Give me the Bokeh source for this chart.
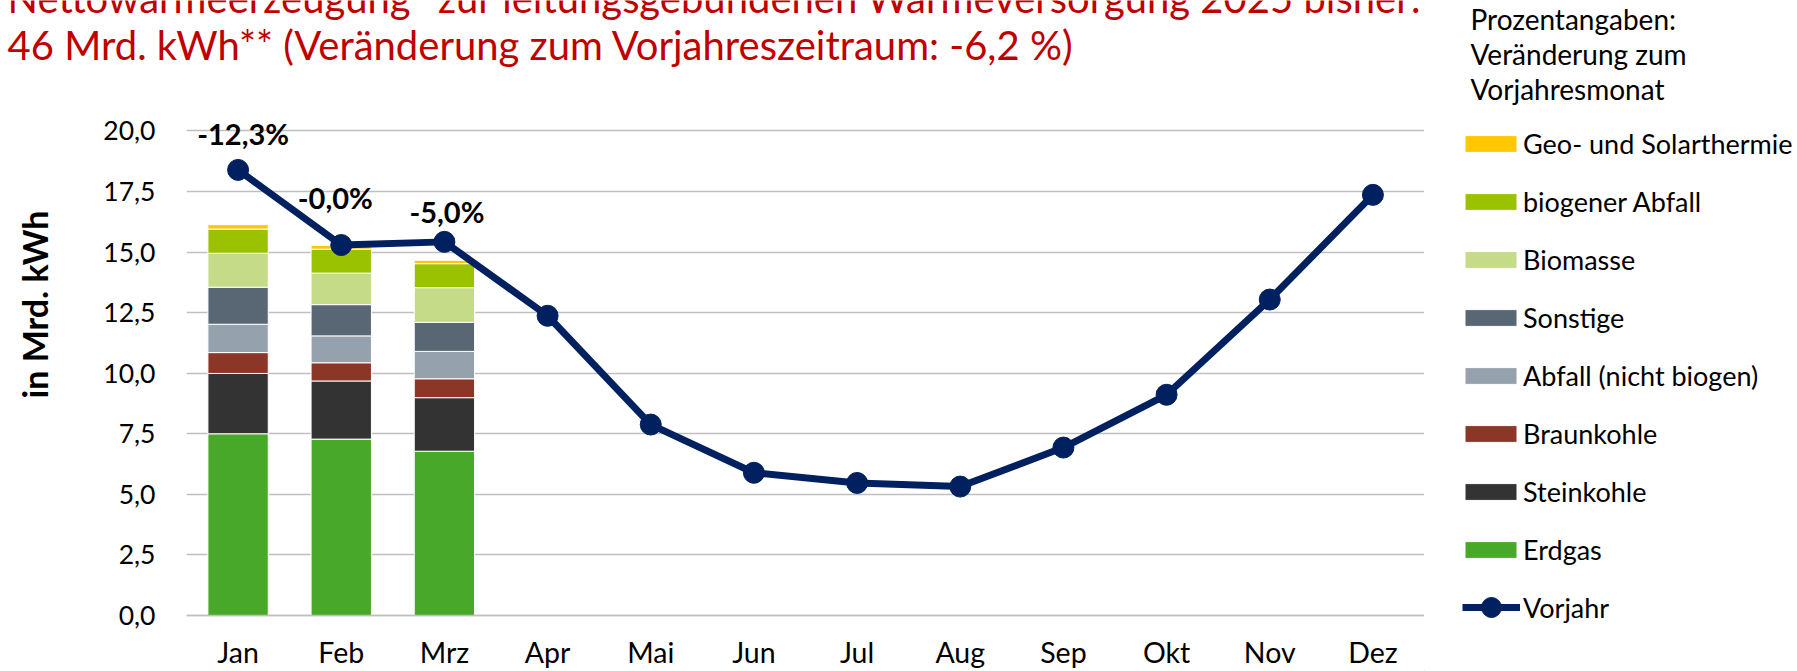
import math
from bokeh.plotting import figure
from bokeh.layouts import column, row
from bokeh.models import (ColumnDataSource, FactorRange, Range1d, FixedTicker,
                          Legend, LegendItem)
from bokeh.core.properties import value
from bokeh.embed import file_html
from bokeh.resources import INLINE

# ---------------- data ----------------
months = ["Jan", "Feb", "Mrz", "Apr", "Mai", "Jun", "Jul", "Aug", "Sep", "Okt", "Nov", "Dez"]
bar_months = ["Jan", "Feb", "Mrz"]

erdgas = [7.50, 7.28, 6.78]
steinkohle = [2.49, 2.40, 2.21]
braunkohle = [0.86, 0.75, 0.78]
abfall = [1.17, 1.11, 1.13]
sonstige = [1.53, 1.29, 1.20]
biomasse = [1.40, 1.30, 1.43]
biogener_abfall = [1.00, 0.99, 0.99]
geo_solar = [0.18, 0.16, 0.14]

vorjahr = [18.39, 15.29, 15.42, 12.37, 7.88, 5.89, 5.47, 5.32, 6.93, 9.11, 13.04, 17.36]
pct_labels = ["-12,3%", "-0,0%", "-5,0%"]

series_names = ["Erdgas", "Steinkohle", "Braunkohle", "Abfall (nicht biogen)",
                "Sonstige", "Biomasse", "biogener Abfall", "Geo- und Solarthermie"]
series_keys = ["erdgas", "steinkohle", "braunkohle", "abfall", "sonstige",
               "biomasse", "biogen", "geo"]
series_colors = ["#48A829", "#333333", "#8B3626", "#95A1AC", "#596774",
                 "#C5DB87", "#9BC201", "#FFC800"]
line_name = "Vorjahr"

y_ticks = [0, 2.5, 5, 7.5, 10, 12.5, 15, 17.5, 20]
y_tick_labels = ["0,0", "2,5", "5,0", "7,5", "10,0", "12,5", "15,0", "17,5", "20,0"]

title_lines = ["Nettowärmeerzeugung* zur leitungsgebundenen Wärmeversorgung 2025 bisher:",
               "46 Mrd. kWh** (Veränderung zum Vorjahreszeitraum: -6,2 %)"]
note_lines = ["Prozentangaben:", "Veränderung zum", "Vorjahresmonat"]
y_title = "in Mrd. kWh"

FONT = "Lato"
LINE_COLOR = "#002060"
TITLE_COLOR = "#C00000"
GRID_COLOR = "#BFBFBF"

# page geometry (pixels)
W, H = 1797, 671
HEAD_H = 108          # header strip height
LEFT_W = 68           # y-title strip width
FRAME_L, FRAME_R, ZERO_Y = 186, 1424, 615   # frame left/right, pixel row of value 0
PX_PER_UNIT = 24.23
main_h = H - HEAD_H


def blank(width, height):
    f = figure(width=width, height=height, x_range=Range1d(0, width),
               y_range=Range1d(0, height), min_border=0,
               output_backend="svg", toolbar_location=None)
    f.axis.visible = False
    f.grid.visible = False
    f.outline_line_color = None
    return f


# ---------------- header (title + note) ----------------
header = blank(W, HEAD_H)
header.text(x=[7, 7], y=[HEAD_H + 2.5, HEAD_H - 44.5], text=title_lines,
            text_font=value(FONT), text_font_size="40px", text_color=TITLE_COLOR,
            text_align="left", text_baseline="middle")
header.text(x=[1470] * 3, y=[HEAD_H - 18, HEAD_H - 53, HEAD_H - 88], text=note_lines,
            text_font=value(FONT), text_font_size="28px", text_color="black",
            text_align="left", text_baseline="middle")

# ---------------- left strip (y axis title) ----------------
left = blank(LEFT_W, main_h)
left.text(x=[34], y=[H - 304], text=[y_title], angle=math.pi / 2,
          text_font=value(FONT), text_font_size="34px", text_font_style="bold",
          text_color="black", text_align="center", text_baseline="middle")

# ---------------- main chart ----------------
# frame spans the full strip height; the x axis is pinned at value 0
y_top = (ZERO_Y - HEAD_H) / PX_PER_UNIT
y_bottom = -(H - ZERO_Y) / PX_PER_UNIT
p = figure(width=FRAME_R - LEFT_W, height=main_h, x_range=FactorRange(*months),
           y_range=Range1d(y_bottom, y_top), output_backend="svg", toolbar_location=None,
           min_border_left=FRAME_L - LEFT_W, min_border_right=0,
           min_border_top=0, min_border_bottom=0)
p.outline_line_color = None

bar_src = ColumnDataSource(dict(months=bar_months, erdgas=erdgas, steinkohle=steinkohle,
                                braunkohle=braunkohle, abfall=abfall, sonstige=sonstige,
                                biomasse=biomasse, biogen=biogener_abfall, geo=geo_solar))
p.vbar_stack(series_keys, x="months", width=0.585, source=bar_src,
             fill_color=series_colors, line_color="white", line_width=1)

line_src = ColumnDataSource(dict(months=months, vorjahr=vorjahr))
p.line("months", "vorjahr", source=line_src, line_width=7, line_color=LINE_COLOR,
       line_join="round")
p.scatter("months", "vorjahr", source=line_src, size=21, fill_color=LINE_COLOR,
          line_color=LINE_COLOR)

lab_src = ColumnDataSource(dict(months=bar_months, y=vorjahr[:3], text=pct_labels,
                                dx=[5, -6, 2.5], dy=[-36.5, -48, -30]))
p.text("months", "y", text="text", source=lab_src, x_offset="dx", y_offset="dy",
       text_align="center", text_baseline="middle", text_font=value(FONT),
       text_font_style="bold", text_font_size="29px", text_color="black")

p.xgrid.grid_line_color = None
p.ygrid.grid_line_color = GRID_COLOR
p.ygrid.grid_line_width = 1.5
p.yaxis.ticker = FixedTicker(ticks=y_ticks)
p.yaxis.major_label_overrides = {t: l for t, l in zip(y_ticks, y_tick_labels)}
p.yaxis.axis_line_color = None
p.yaxis.major_tick_line_color = None
p.yaxis.minor_tick_line_color = None
p.yaxis.major_tick_out = 0
p.yaxis.major_label_standoff = 31
p.yaxis.major_label_text_font = FONT
p.yaxis.major_label_text_font_size = "26.5px"
p.yaxis.major_label_text_color = "black"

p.xaxis.fixed_location = 0
p.xaxis.axis_line_color = GRID_COLOR
p.xaxis.axis_line_width = 1.5
p.xaxis.major_tick_line_color = None
p.xaxis.major_tick_out = 0
p.xaxis.major_label_standoff = 19
p.xaxis.major_label_text_font = FONT
p.xaxis.major_label_text_font_size = "28.5px"
p.xaxis.major_label_text_color = "black"

# ---------------- legend panel ----------------
# legend-only renderers: one point each, placed outside the visible range
lg = blank(W - FRAME_R, main_h)
bar_items = []
for name, c in zip(series_names, series_colors):
    r = lg.vbar(x=[-1000], top=[1], width=1, fill_color=c, line_color="white", line_width=1)
    bar_items.append(LegendItem(label=name, renderers=[r]))
lr = lg.line(x=[-1000, -999], y=[1, 1], line_width=7, line_color=LINE_COLOR)
sr = lg.scatter(x=[-1000], y=[1], size=21, fill_color=LINE_COLOR, line_color=LINE_COLOR)

common = dict(orientation="vertical", padding=0, margin=0, border_line_color=None,
              background_fill_alpha=0, label_text_font=FONT,
              label_text_font_size="27px", label_text_color="black")
legend1 = Legend(items=bar_items[::-1], location=(34, 105), glyph_width=65,
                 glyph_height=21, label_height=21, label_standoff=0, spacing=25,
                 **common)
legend2 = Legend(items=[LegendItem(label=line_name, renderers=[lr, sr])], location=(38, 39),
                 glyph_width=58, glyph_height=50, label_height=20, label_standoff=3,
                 **common)
lg.add_layout(legend1, "center")
lg.add_layout(legend2, "center")

layout = column(header, row(left, p, lg, spacing=0), spacing=0)
open("out.html", "w").write(file_html(layout, INLINE))
